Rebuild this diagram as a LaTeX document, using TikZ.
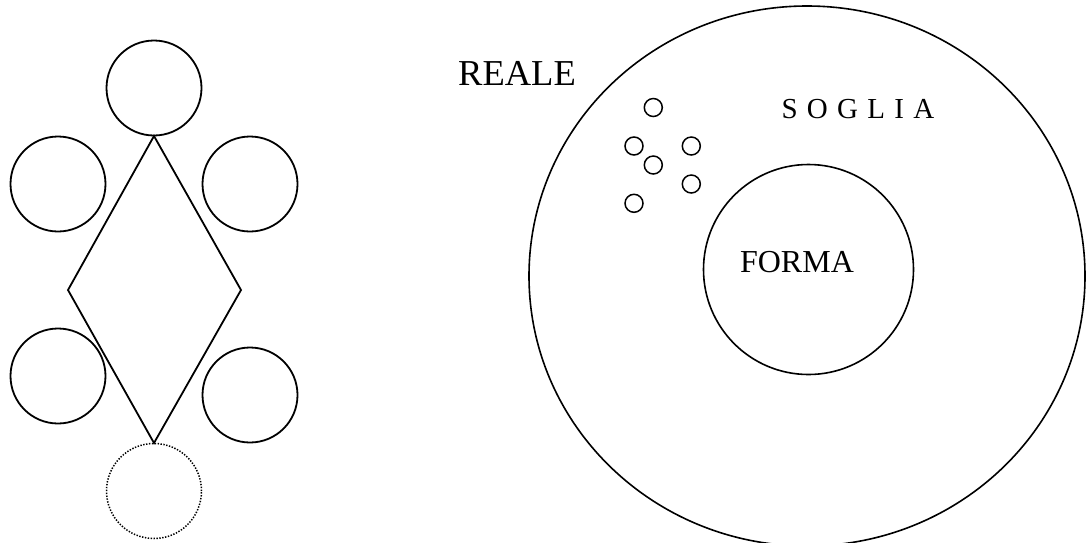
\documentclass[tikz,border=0pt]{standalone}
\usepackage{fontspec}
\setmainfont{Liberation Serif}
\begin{document}
\begin{tikzpicture}[x=1pt,y=-1pt,
  ring/.style={draw,circle,line width=1.8pt,minimum size=95pt,inner sep=0pt},
  dotring/.style={ring,line width=1.5pt,dash pattern=on 1.4pt off 1.5pt},
  dot/.style={draw,circle,line width=1.5pt,minimum size=18pt,inner sep=0pt},
  lbl/.style={anchor=base,inner sep=0pt}]
\useasboundingbox (0,0) rectangle (1090,542);
% left figure
\node[ring] (top) at (154,88) {};
\node[ring] (ul) at (58,184) {};
\node[ring] (ur) at (250,184) {};
\node[ring] (ll) at (58,376) {};
\node[ring] (lr) at (250,395) {};
\node[dotring] (bot) at (154,491) {};
\coordinate (dt) at (154,136);
\coordinate (dl) at (68,290);
\coordinate (dr) at (241,290);
\coordinate (db) at (154,443);
\draw[line width=1.8pt,line join=miter] (dt) -- (dr) -- (db) -- (dl) -- cycle;
% right figure
\draw[line width=1.6pt] (807,276) ellipse [x radius=278, y radius=270];
\node[draw,circle,line width=1.6pt,minimum size=210pt,inner sep=0pt] (forma) at (808.5,269.5) {};
\node[lbl] (formatext) at (797,272.7) {\fontsize{32}{36}\selectfont FORMA};
\node[lbl] (reale) at (517,85) {\fontsize{36.5}{40}\selectfont REALE};
\node[lbl] (soglia) at (858,118.3) {\fontsize{29}{32}\selectfont\spaceskip=9.3pt S O G L I A};
\node[dot] (p1) at (653.3,107.5) {};
\node[dot] (p2) at (634,146) {};
\node[dot] (p3) at (691.3,146) {};
\node[dot] (p4) at (653.3,165) {};
\node[dot] (p5) at (691.3,184) {};
\node[dot] (p6) at (634,203.3) {};
\end{tikzpicture}
\end{document}
